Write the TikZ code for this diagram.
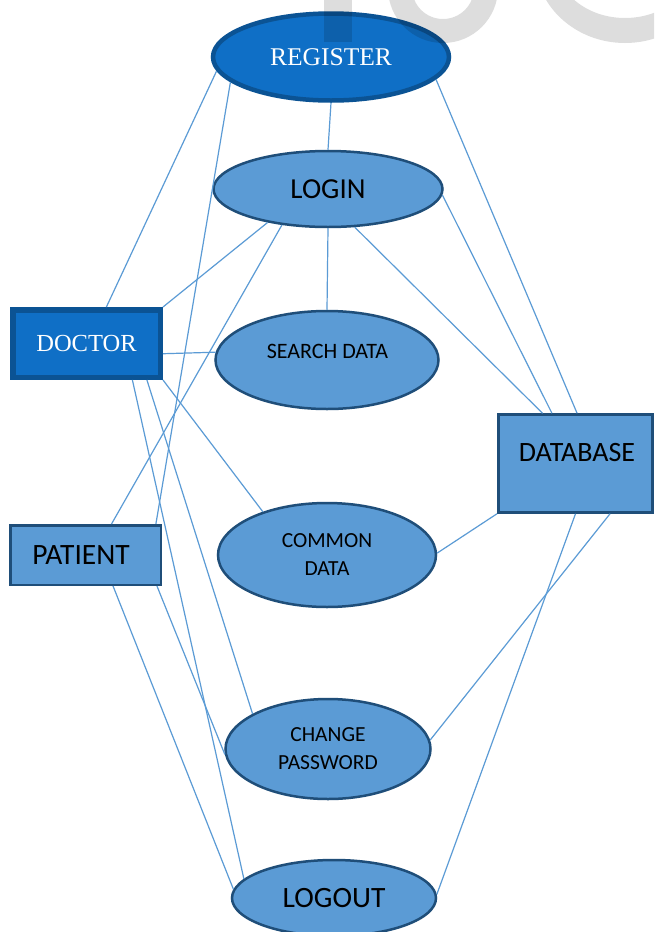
\documentclass[tikz,border=0pt]{standalone}
\usepackage{fontspec}
\setmainfont{Liberation Serif}
\newfontfamily\calib{Carlito}
\usetikzlibrary{shapes.geometric,calc}
\definecolor{regfill}{HTML}{0F6FC6}
\definecolor{regline}{HTML}{0B5394}
\definecolor{ucfill}{HTML}{5B9BD5}
\definecolor{ucline}{HTML}{1F4E79}
\definecolor{wire}{HTML}{5B9BD5}

\begin{document}
\begin{tikzpicture}[x=1pt,y=-1pt,
  darkcase/.style={ellipse, fill=regfill, draw=regline, line width=4.5pt,
    inner sep=0pt, text=white, font=\fontsize{25.5}{30}\selectfont},
  darkactor/.style={rectangle, fill=regfill, draw=regline, line width=5.5pt,
    inner sep=0pt, text=white, font=\fontsize{24.5}{30}\selectfont},
  usecase/.style={ellipse, fill=ucfill, draw=ucline, line width=2.5pt,
    inner sep=0pt, align=center, font=\calib\fontsize{21.5}{28}\selectfont},
  bigcase/.style={usecase, font=\calib\fontsize{29.5}{32}\selectfont},
  actor/.style={rectangle, fill=ucfill, draw=ucline, line width=2.5pt,
    inner sep=0pt},
  caption/.style={inner sep=0pt, font=\calib\fontsize{22}{28}\selectfont},
  bigcaption/.style={inner sep=0pt, font=\calib\fontsize{28}{32}\selectfont},
  wire/.style={draw=wire, line width=1.2pt},
  faintglyph/.style={fill=black, opacity=0.135, even odd rule}
]
\useasboundingbox (0,0) rectangle (654,932);
\clip (0,0) rectangle (654,932);
\fill[white] (0,0) rectangle (654,932);

% use cases
\node[darkcase, minimum width=236pt, minimum height=87pt] (reg) at (331,57) {REGISTER};
\node[bigcase, font=\calib\fontsize{29}{32}\selectfont, minimum width=229pt, minimum height=76pt] (login) at (328,189) {LOGIN};
\node[usecase, minimum width=223pt, minimum height=98pt] (search) at (327,360) {};
\node[caption] (searchlbl) at (327.5,351) {SEARCH DATA};
\node[usecase, minimum width=218pt, minimum height=104pt] (common) at (327,555) {COMMON\\DATA};
\node[usecase, minimum width=205pt, minimum height=100pt] (change) at (328,749) {CHANGE\\PASSWORD};
\node[bigcase, minimum width=204pt, minimum height=76pt] (logout) at (334,898) {LOGOUT};

% actors and store
\node[darkactor, minimum width=147.5pt, minimum height=67.5pt] (doctor) at (86.5,343.5) {DOCTOR};
\node[actor, minimum width=150.5pt, minimum height=59.5pt] (patient) at (85.5,555) {};
\node[bigcaption, font=\calib\fontsize{29.5}{32}\selectfont] (patientlbl) at (81,555) {PATIENT};
\node[actor, line width=3pt, minimum width=154pt, minimum height=97.5pt] (db) at (575.5,463.5) {};
\node[bigcaption] (dblbl) at (577,453) {DATABASE};

% connectors
\draw[wire] (reg.187) -- ($(doctor.north west)!0.63!(doctor.north east)$);
\draw[wire] (reg.194) -- ($(patient.north west)!0.96!(patient.north east)$);
\draw[wire] (reg.south) -- (login.north);
\draw[wire] (reg.348) -- ($(db.north west)!0.51!(db.north east)$);
\draw[wire] (login.357) -- ($(db.north west)!0.35!(db.north east)$);
\draw[wire] (login.305) -- ($(db.north west)!0.29!(db.north east)$);
\draw[wire] (login.south) -- (search.north);
\draw[wire] (login.209) -- (doctor.north east);
\draw[wire] (login.218) -- ($(patient.north west)!0.67!(patient.north east)$);
\draw[wire] ($(doctor.north east)!0.64!(doctor.south east)$) -- (search.176);
\draw[wire] (doctor.south east) -- (common.146);
\draw[wire] ($(doctor.south west)!0.80!(doctor.south east)$) -- (logout.168);
\draw[wire] ($(doctor.south west)!0.895!(doctor.south east)$) -- (change.155);
\draw[wire] ($(patient.south west)!0.967!(patient.south east)$) -- (change.183);
\draw[wire] ($(patient.south west)!0.68!(patient.south east)$) -- (logout.175);
\draw[wire] (common.1) -- (db.south west);
\draw[wire] (change.5) -- ($(db.south west)!0.72!(db.south east)$);
\draw[wire] (logout.2) -- (db.south);

% faint lettering across the top edge
\fill[faintglyph] (324,-5) rectangle (352,42);
\fill[faintglyph] (443,-12) circle[radius=55] (443,-12) circle[radius=31];
\fill[faintglyph] (625,-40) ellipse[x radius=90, y radius=83] (625,-40) ellipse[x radius=70, y radius=58];
\end{tikzpicture}
\end{document}
